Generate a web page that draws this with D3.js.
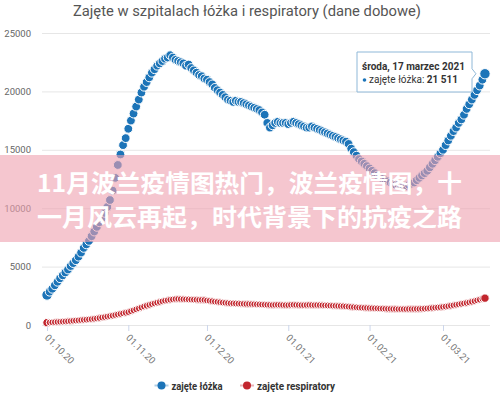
<!DOCTYPE html>
<html>
<head>
<meta charset="utf-8">
<script src="https://cdnjs.cloudflare.com/ajax/libs/d3/7.8.5/d3.min.js"></script>
<style>
  html, body { margin: 0; padding: 0; background: #fff; }
  svg { display: block; font-family: Roboto, "Open Sans", sans-serif; }
</style>
</head>
<body>
<div id="my_dataviz"></div>
<script>
// * DATA (daily values, starting 01.10.2020)
const startDate = new Date(Date.UTC(2020, 9, 1));
const seriesNames = ["zajęte łóżka", "zajęte respiratory"];
const seriesColors = ["#1c74b8", "#c2262e"];
const yTicks = [0, 5000, 10000, 15000, 20000, 25000];
const monthTicks = ["2020-10-01", "2020-11-01", "2020-12-01", "2021-01-01", "2021-02-01", "2021-03-01"];
const titleText = "Zajęte w szpitalach łóżka i respiratory (dane dobowe)";
const tooltipDate = "środa, 17 marzec 2021";
const tooltipValue = "21 511";
const bannerLines = ["11月波兰疫情图热门，波兰疫情图，十", "一月风云再起，时代背景下的抗疫之路"];

const beds = [
  // Oct
  2570, 2850, 3100, 3400, 3700, 4000, 4250, 4500, 4750, 5050,
  5300, 5550, 5850, 6200, 6600, 6900, 7200, 7600, 8000, 8400,
  8800, 9150, 9600, 10100, 10700, 11500, 12600, 13700, 14600, 15400,
  16000,
  // Nov
  16800, 17500, 18100, 18700, 19300, 19900, 20400, 20800, 21200, 21600,
  21900, 22200, 22400, 22600, 22800, 22900, 23100, 22900, 22700, 22600,
  22500, 22400, 22200, 22300, 22000, 21800, 21600, 21400, 21300, 21100,
  // Dec
  21000, 20800, 20600, 20300, 20100, 19900, 19700, 19500, 19300, 19200,
  19100, 19200, 19100, 19100, 19000, 18900, 18800, 18700, 18600, 18500,
  18400, 18200, 18000, 17300, 16900, 17100, 17300, 17400, 17300, 17300,
  17300,
  // Jan
  17200, 17300, 17400, 17300, 17200, 17100, 17000, 16900, 16900, 17000,
  16900, 16800, 16700, 16600, 16500, 16400, 16300, 16200, 16100, 16000,
  15900, 15800, 15700, 15500, 15100, 14800, 14500, 14200, 14000, 13800,
  13600,
  // Feb
  13400, 13200, 13000, 12800, 12700, 12500, 12400, 12300, 12200, 12100,
  12000, 12000, 11900, 11900, 11900, 12000, 12100, 12200, 12400, 12600,
  12800, 13000, 13200, 13500, 13800, 14100, 14400, 14700,
  // Mar
  15000, 15400, 15800, 16200, 16600, 16900, 17300, 17600, 18000, 18500,
  18900, 19300, 19700, 20100, 20500, 21000, 21511
];

const ventilators = [
  // Oct
  200, 215, 230, 245, 260, 275, 290, 305, 320, 340,
  360, 380, 400, 420, 440, 460, 480, 505, 530, 560,
  600, 640, 680, 720, 760, 800, 850, 900, 950, 1000,
  1050,
  // Nov
  1100, 1180, 1260, 1340, 1420, 1500, 1580, 1650, 1720, 1790,
  1850, 1910, 1970, 2030, 2080, 2120, 2160, 2190, 2220, 2230,
  2220, 2210, 2200, 2190, 2180, 2170, 2160, 2150, 2150, 2140,
  // Dec
  2100, 2070, 2040, 2000, 1980, 1950, 1920, 1900, 1880, 1860,
  1850, 1840, 1830, 1820, 1810, 1800, 1800, 1790, 1780, 1770,
  1760, 1750, 1740, 1730, 1720, 1710, 1720, 1730, 1720, 1710,
  1700,
  // Jan
  1700, 1720, 1730, 1720, 1710, 1700, 1700, 1710, 1720, 1710,
  1700, 1710, 1700, 1690, 1680, 1670, 1660, 1650, 1640, 1630,
  1620, 1610, 1590, 1570, 1550, 1530, 1510, 1490, 1480, 1470,
  1460,
  // Feb
  1450, 1440, 1430, 1420, 1410, 1400, 1390, 1380, 1380, 1370,
  1370, 1360, 1360, 1360, 1360, 1370, 1370, 1370, 1380, 1380,
  1390, 1400, 1420, 1440, 1460, 1480, 1500, 1520,
  // Mar
  1550, 1580, 1610, 1650, 1690, 1730, 1770, 1810, 1850, 1890,
  1930, 1990, 2050, 2110, 2170, 2240, 2300
];

// * CHART
var width = 500, height = 397;

var svg = d3.select("#my_dataviz")
  .append("svg")
  .attr("width", width)
  .attr("height", height);

var x = d3.scaleUtc()
  .domain([startDate, new Date(Date.UTC(2021, 2, 1))])
  .range([47, 443]);

var y = d3.scaleLinear()
  .domain([0, 25000])
  .range([325, 33]);

function toPoints(values) {
  return values.map(function(v, i) { return { date: d3.utcDay.offset(startDate, i), value: v }; });
}

// title
svg.append("text")
  .attr("x", 247)
  .attr("y", 16)
  .attr("text-anchor", "middle")
  .attr("fill", "#555")
  .style("font-size", "14.5px")
  .attr("textLength", 348)
  .attr("lengthAdjust", "spacingAndGlyphs")
  .text(titleText);

// horizontal grid
var YAXIS = svg.append("g")
  .attr("transform", "translate(490,0)")
  .call(d3.axisRight(y).tickValues(yTicks).tickSize(-448).tickFormat(""));
YAXIS.select(".domain").remove();
YAXIS.selectAll(".tick line").attr("stroke", "#e6e6e6");

// y labels
svg.append("g")
  .selectAll("text")
  .data(yTicks)
  .enter()
  .append("text")
  .attr("x", 31)
  .attr("y", function(d) { return y(d) + 3.5; })
  .attr("text-anchor", "end")
  .attr("fill", "#666")
  .style("font-size", "9.5px")
  .text(function(d) { return d; });

// x axis
var xAxis = d3.axisBottom(x)
  .tickValues(monthTicks.map(function(s) { return new Date(s + "T00:00:00Z"); }))
  .tickSize(6)
  .tickFormat(d3.utcFormat("%d.%m.%y"));

var XAXIS = svg.append("g")
  .attr("transform", "translate(0,325)")
  .call(xAxis);
XAXIS.select(".domain").remove();
XAXIS.selectAll(".tick line").attr("stroke", "#ccd6eb");
XAXIS.selectAll(".tick text")
  .attr("x", 0)
  .attr("y", 0)
  .attr("dy", "0.35em")
  .attr("fill", "#777")
  .style("font-size", "9.5px")
  .style("font-family", "Roboto, sans-serif")
  .attr("text-anchor", "start")
  .attr("transform", "translate(-1,11) rotate(45)");

// series dots
var radii = [4.4, 3.4];
[beds, ventilators].forEach(function(values, si) {
  var pts = toPoints(values);
  var g = svg.append("g");
  g.selectAll("circle")
    .data(pts)
    .enter()
    .append("circle")
    .attr("cx", function(d) { return x(d.date); })
    .attr("cy", function(d) { return y(d.value); })
    .attr("r", function(d, i) { return (i == 0 || i == pts.length - 1) ? radii[si] + 0.8 : radii[si]; })
    .attr("fill", seriesColors[si])
    .attr("stroke", "#fff")
    .attr("stroke-width", 1);
});

// tooltip for the last point
var last = toPoints(beds)[beds.length - 1];
var tip = svg.append("g");
var tx = 357, ty = 52, tw = 115, th = 40;
var px = x(last.date) - 9, py = y(last.value);
tip.append("path")
  .attr("d", "M" + tx + "," + ty + "H" + (tx + tw) + "V" + (py - 5) + "L" + px + "," + py + "L" + (tx + tw) + "," + (py + 5) +
        "V" + (ty + th) + "H" + tx + "Z")
  .attr("fill", "rgba(255,255,255,0.92)")
  .attr("stroke", "#8fb8d8")
  .attr("stroke-width", 1);
tip.append("text")
  .attr("x", 362)
  .attr("y", 70)
  .attr("fill", "#333")
  .style("font-size", "10px")
  .style("font-weight", "bold")
  .text(tooltipDate);
tip.append("circle")
  .attr("cx", 364.5)
  .attr("cy", 80)
  .attr("r", 1.8)
  .attr("fill", seriesColors[0]);
var t2 = tip.append("text")
  .attr("x", 369)
  .attr("y", 83)
  .attr("fill", "#333")
  .style("font-size", "10px");
t2.append("tspan").text(seriesNames[0] + ": ");
t2.append("tspan").style("font-weight", "bold").text(tooltipValue);

// legend
var legendX = [161.5, 247];
var legendW = [51, 78];
seriesNames.forEach(function(name, i) {
  var lg = svg.append("g");
  lg.append("line")
    .attr("x1", legendX[i] - 7).attr("x2", legendX[i] + 7)
    .attr("y1", 385.5).attr("y2", 385.5)
    .attr("stroke", seriesColors[i])
    .attr("stroke-opacity", 0.35)
    .attr("stroke-width", 2);
  lg.append("circle")
    .attr("cx", legendX[i]).attr("cy", 385.5).attr("r", 4)
    .attr("fill", seriesColors[i]);
  lg.append("text")
    .attr("x", legendX[i] + 10)
    .attr("y", 389.5)
    .attr("fill", "#333")
    .style("font-size", "11px")
    .style("font-weight", "bold")
    .attr("textLength", legendW[i])
    .attr("lengthAdjust", "spacingAndGlyphs")
    .text(name);
});

// pink banner on top
svg.append("rect")
  .attr("x", 0).attr("y", 155)
  .attr("width", width).attr("height", 87)
  .attr("fill", "rgba(238,160,175,0.6)");
svg.selectAll(".banner")
  .data(bannerLines)
  .enter()
  .append("text")
  .attr("class", "banner")
  .attr("x", 37)
  .attr("y", function(d, i) { return 192 + i * 34; })
  .attr("fill", "#fff")
  .style("font-family", "'Noto Sans CJK SC', sans-serif")
  .style("font-size", "24px")
  .style("font-weight", "bold")
  .attr("textLength", 425)
  .attr("lengthAdjust", "spacingAndGlyphs")
  .text(function(d) { return d; });
</script>
</body>
</html>
